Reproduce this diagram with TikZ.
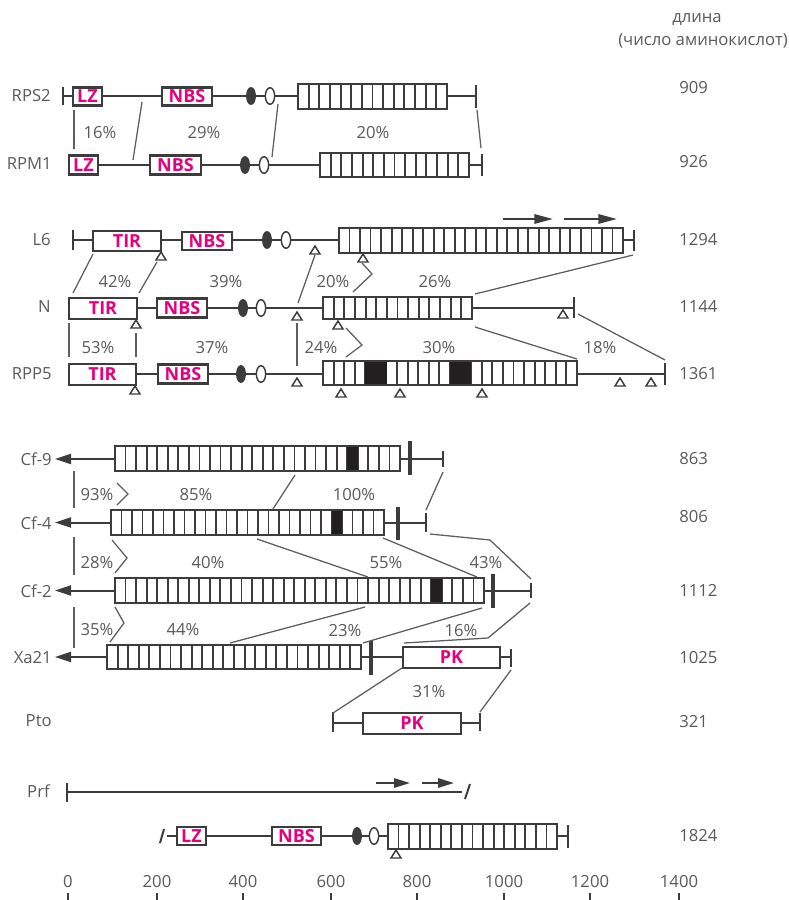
\documentclass[tikz,border=0pt]{standalone}
\usepackage{fontspec}
\setmainfont{Open Sans}
\usetikzlibrary{arrows.meta}
\definecolor{lc}{HTML}{3C3C3C}
\definecolor{tc}{HTML}{5A5A5A}
\definecolor{pk}{HTML}{E5007D}
\definecolor{cc}{HTML}{5E5E5E}
\definecolor{blk}{HTML}{231F20}
\tikzset{
 bb/.style={draw=lc, line width=1.8pt},
 cellline/.style={draw=lc, line width=1.4pt},
 bone/.style={draw=lc, line width=1.5pt},
 conn/.style={draw=cc, line width=0.95pt},
 lbl/.style={text=tc, font=\fontsize{12.5}{14}\selectfont, inner sep=0pt},
 dom/.style={draw=lc, line width=1.8pt, fill=white, text=pk, font=\fontsize{13.5}{15}\selectfont\bfseries, inner sep=0pt},
 thickbar/.style={draw=lc, line width=3pt},
 tri/.style={draw=lc, line width=1.1pt, fill=white, line join=miter},
 darkell/.style={draw=lc, line width=1pt, fill=lc},
 lightell/.style={draw=lc, line width=1.1pt, fill=white},
 bigtip/.style={-{Triangle[length=12pt,width=7.5pt]}},
 reptip/.style={-{Triangle[length=14pt,width=7pt]}},
 smalltip/.style={-{Triangle[length=12pt,width=7pt]}},
}
% LRR box: x1 x2 ycenter halfheight ncells blacklist(a/b)
\newcommand\lrrbox[6]{%
  \pgfmathsetmacro\lrrcw{(#2-#1)/#5}%
  \pgfmathtruncatemacro\lrrnm{#5-1}%
  \fill[white] (#1,#3-#4) rectangle (#2,#3+#4);
  \foreach \k in {1,...,\lrrnm}{\draw[cellline] ({#1+\k*\lrrcw},#3-#4) -- ({#1+\k*\lrrcw},#3+#4);}
  \foreach \a/\b in {#6}{\fill[blk] ({#1+\a*\lrrcw},#3-#4) rectangle ({#1+\b*\lrrcw},#3+#4);}
  \draw[bb] (#1,#3-#4) rectangle (#2,#3+#4);
}
% domain box: name x1 x2 y halfheight text
\newcommand\dom[6]{%
  \node[dom, minimum width={(#3-#2)*0.75pt}, minimum height={2*#5*0.75pt}] (#1) at ({(#2+#3)/2},#4) {#6};
}
\newcommand\tria[2]{\draw[tri] (#1,#2) -- (#1-5,#2+8) -- (#1+5,#2+8) -- cycle;}
\newcommand\ells[3]{%
  \draw[darkell] (#1,#3) ellipse [x radius=3.2pt, y radius=6.2pt];
  \draw[lightell] (#2,#3) ellipse [x radius=3.5pt, y radius=6.2pt];
}
\begin{document}
\begin{tikzpicture}[x=0.75pt,y=-0.75pt]
\useasboundingbox (0,0) rectangle (789,900);
\fill[white] (0,0) rectangle (789,900);

% header
\node[lbl] (hd1) at (697,20) {длина};
\node[lbl, anchor=east] (hd2) at (788,41) {(число аминокислот)};

% ---------------- RPS2
\node[lbl, anchor=east] (lrps2) at (51,96) {RPS2};
\draw[bone] (63,87) -- (63,105);
\draw[bone] (63,96) -- (476,96);
\draw[bone] (476,85) -- (476,108);
\dom{rps2lz}{73}{102}{96.5}{9}{LZ}
\dom{rps2nbs}{162}{212}{96.5}{9}{NBS}
\ells{251}{270}{96}
\lrrbox{298}{447}{96.5}{12.5}{14}{0/0}
\node[lbl, anchor=west] (n909) at (679,88) {909};

% ---------------- RPM1
\node[lbl, anchor=east] (lrpm1) at (52,164) {RPM1};
\draw[bone] (69,165) -- (482,165);
\draw[bone] (482,154) -- (482,176);
\dom{rpm1lz}{69}{98}{165}{9.5}{LZ}
\dom{rpm1nbs}{150}{201}{165}{9.5}{NBS}
\ells{245}{264}{165}
\lrrbox{320}{469}{165}{12}{14}{0/0}
\node[lbl, anchor=west] (n926) at (679,162) {926};

\draw[conn] (74,110) -- (74,149);
\draw[conn] (142,102) -- (133,160);
\draw[conn] (278,104) -- (272,157);
\draw[conn] (477,110) -- (481,148);
\node[lbl] (p16) at (100,133) {16\%};
\node[lbl] (p29) at (204,133) {29\%};
\node[lbl] (p20a) at (373,133) {20\%};

% ---------------- L6
\node[lbl, anchor=east] (ll6) at (51,240) {L6};
\draw[bone] (73,230) -- (73,250);
\draw[bone] (73,240) -- (634,240);
\draw[bone] (634,230) -- (634,251);
\dom{l6tir}{93}{161}{241}{10}{TIR}
\tria{161}{252}
\dom{l6nbs}{182}{232}{241}{9}{NBS}
\ells{267}{286}{240}
\tria{315}{246}
\lrrbox{339}{623}{240.5}{12.5}{27}{0/0}
\tria{363}{254}
\draw[bone, reptip] (503,219) -- (553,219);
\draw[bone, reptip] (564,219) -- (617,219);
\node[lbl, anchor=west] (n1294) at (679,240) {1294};

% ---------------- N
\node[lbl, anchor=east] (ln) at (51,307) {N};
\draw[bone] (137,308) -- (574,308);
\draw[bone] (574,297) -- (574,318);
\dom{ntir}{69}{137}{308.5}{10.5}{TIR}
\tria{136}{320}
\dom{nnbs}{157}{207}{308}{9.5}{NBS}
\ells{243}{261}{308}
\tria{297}{312}
\lrrbox{323}{472}{308}{11}{14}{0/0}
\tria{338}{321}
\tria{563}{310}
\node[lbl, anchor=west] (n1144) at (679,307) {1144};

\draw[conn] (93,254) -- (73,293);
\draw[conn] (157,262) -- (139,293);
\draw[conn] (315,255) -- (298,303);
\draw[conn] (362,263) -- (372,274) -- (353,292);
\draw[conn] (633,255) -- (475,294);
\node[lbl] (p42) at (115,282) {42\%};
\node[lbl] (p39) at (226,282) {39\%};
\node[lbl] (p20b) at (333,282) {20\%};
\node[lbl] (p26) at (435,282) {26\%};

% ---------------- RPP5
\node[lbl, anchor=east] (lrpp5) at (52,374) {RPP5};
\draw[bone] (136,374) -- (665,374);
\draw[bone] (665,363) -- (665,385);
\dom{rtir}{69}{136}{374.5}{10.5}{TIR}
\tria{135}{386}
\dom{rnbs}{158}{208}{374}{9.5}{NBS}
\ells{241}{261}{374}
\tria{297}{378}
\lrrbox{323}{577}{373}{12}{24}{4/6,12/14}
\tria{341}{389}
\tria{400}{389}
\tria{482}{389}
\tria{620}{378}
\tria{651}{378}
\node[lbl, anchor=west] (n1361) at (679,374) {1361};

\draw[conn] (69,323) -- (69,357);
\draw[conn] (136,333) -- (136,357);
\draw[conn] (297,323) -- (297,366);
\draw[conn] (346,328) -- (362,345) -- (346,357);
\draw[conn] (475,327) -- (577,359);
\draw[conn] (578,314) -- (665,360);
\node[lbl] (p53) at (98,348) {53\%};
\node[lbl] (p37) at (212,348) {37\%};
\node[lbl] (p24) at (321,348) {24\%};
\node[lbl] (p30) at (439,348) {30\%};
\node[lbl] (p18) at (600,348) {18\%};

% ---------------- Cf-9
\node[lbl, anchor=east] (lcf9) at (52,459) {Cf-9};
\draw[bone, bigtip] (115,459) -- (55,459);
\draw[bone] (400,459) -- (443,459);
\draw[bone] (443,451) -- (443,467);
\lrrbox{115}{400}{458.5}{12.5}{27}{22/23}
\draw[thickbar] (410,441) -- (410,475);
\node[lbl, anchor=west] (n863) at (679,459) {863};

% ---------------- Cf-4
\node[lbl, anchor=east] (lcf4) at (52,523) {Cf-4};
\draw[bone, bigtip] (111,522.5) -- (55,522.5);
\draw[bone] (384,522.5) -- (426,522.5);
\draw[bone] (426,513) -- (426,532);
\lrrbox{111}{384}{522.5}{12.5}{26}{21/22}
\draw[thickbar] (398,507) -- (398,540);
\node[lbl, anchor=west] (n806) at (679,517) {806};

\draw[conn] (74,471) -- (74,508);
\draw[conn] (117,483) -- (128,494) -- (117,505);
\draw[conn] (295,475) -- (273,509);
\draw[conn] (443,472) -- (426,510);
\node[lbl] (p93) at (97,495) {93\%};
\node[lbl] (p85) at (196,495) {85\%};
\node[lbl] (p100) at (354,495) {100\%};

% ---------------- Cf-2
\node[lbl, anchor=east] (lcf2) at (52,591) {Cf-2};
\draw[bone, bigtip] (115,590.5) -- (55,590.5);
\draw[bone] (484,590.5) -- (531,590.5);
\draw[bone] (531,583) -- (531,598);
\lrrbox{115}{484}{590.5}{12.5}{35}{30/31}
\draw[thickbar] (493,574) -- (493,608);
\node[lbl, anchor=west] (n1112) at (679,590) {1112};

\draw[conn] (74,537) -- (74,575);
\draw[conn] (112,540) -- (127,558) -- (115,573);
\draw[conn] (257,539) -- (368,577);
\draw[conn] (383,538) -- (477,577);
\draw[conn] (430,534) -- (490,540) -- (531,579);
\node[lbl] (p28) at (97,563) {28\%};
\node[lbl] (p40) at (208,563) {40\%};
\node[lbl] (p55) at (386,563) {55\%};
\node[lbl] (p43) at (486,563) {43\%};

% ---------------- Xa21
\node[lbl, anchor=east] (lxa21) at (52,658) {Xa21};
\draw[bone, bigtip] (107,657) -- (55,657);
\draw[bone] (361,657) -- (511,657);
\draw[bone] (511,649) -- (511,667);
\lrrbox{107}{361}{657}{12}{24}{0/0}
\draw[thickbar] (371,641) -- (371,675);
\dom{xpk}{403}{500}{657.5}{10.5}{PK}
\node[lbl, anchor=west] (n1025) at (679,658) {1025};

\draw[conn] (74,607) -- (74,648);
\draw[conn] (115,607) -- (124,623) -- (110,642);
\draw[conn] (365,607) -- (230,643);
\draw[conn] (482,608) -- (363,643);
\draw[conn] (530,603) -- (488,638) -- (404,643);
\node[lbl] (p35) at (97,630) {35\%};
\node[lbl] (p44) at (183,630) {44\%};
\node[lbl] (p23) at (345,631) {23\%};
\node[lbl] (p16b) at (461,631) {16\%};

% ---------------- Pto
\node[lbl, anchor=east] (lpto) at (52,721) {Pto};
\draw[bone] (333,712) -- (333,732);
\draw[bone] (333,723) -- (480,723);
\draw[bone] (480,713) -- (480,731);
\dom{ppk}{363}{461}{723.5}{10.5}{PK}
\node[lbl, anchor=west] (n321) at (679,722) {321};

\draw[conn] (402,668) -- (333,713);
\draw[conn] (511,670) -- (480,712);
\node[lbl] (p31) at (429,692) {31\%};

% ---------------- Prf
\node[lbl, anchor=east] (lprf) at (50,791) {Prf};
\draw[bone] (67,783) -- (67,802);
\draw[bone] (67,792) -- (462,792);
\draw[bone] (465,799) -- (470,784);
\draw[bone, smalltip] (376,783) -- (410,783);
\draw[bone, smalltip] (422,783) -- (454,783);

% ---------------- bottom row
\draw[bone] (160,843) -- (164,829);
\draw[bone] (167,836) -- (568,836);
\draw[bone] (568,825) -- (568,848);
\dom{blz}{177}{206}{836}{9}{LZ}
\dom{bnbs}{272}{321}{836}{9}{NBS}
\ells{357}{374}{836}
\lrrbox{388}{557}{836.5}{12.5}{16}{0/0}
\tria{396}{850}
\node[lbl, anchor=west] (n1824) at (679,836) {1824};

% ---------------- axis
\foreach \v/\xx in {0/68,200/157,400/243,600/331,800/417,1000/504,1200/590,1400/679}{
  \node[lbl] (ax\v) at (\xx,882) {\v};
  \draw[bone] (\xx,893) -- (\xx,901);
}
\end{tikzpicture}
\end{document}
